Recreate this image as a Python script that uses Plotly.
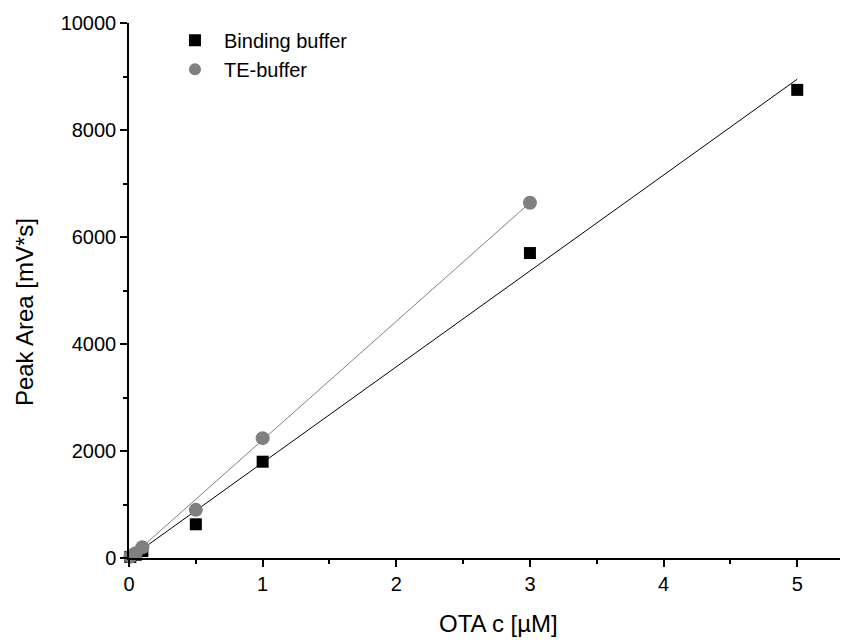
import plotly.graph_objects as go

# Data
bind_x = [0.01, 0.05, 0.1, 0.5, 1, 3, 5]
bind_y = [20, 60, 130, 630, 1800, 5700, 8750]
te_x = [0.01, 0.05, 0.1, 0.5, 1, 3]
te_y = [25, 90, 200, 900, 2240, 6640]

# Linear fit lines (endpoints)
bind_fit_x = [0, 5]
bind_fit_y = [-10, 8950]
te_fit_x = [0, 3]
te_fit_y = [-10, 6640]

x_title = "OTA c [µM]"
y_title = "Peak Area [mV*s]"

FONT = "Liberation Sans, Arial, sans-serif"

fig = go.Figure()
fig.add_trace(go.Scatter(x=bind_fit_x, y=bind_fit_y, mode="lines",
                         line=dict(color="black", width=1), showlegend=False,
                         cliponaxis=False, hoverinfo="skip"))
fig.add_trace(go.Scatter(x=te_fit_x, y=te_fit_y, mode="lines",
                         line=dict(color="#808080", width=1), showlegend=False,
                         cliponaxis=False, hoverinfo="skip"))
fig.add_trace(go.Scatter(x=bind_x, y=bind_y, mode="markers", name="Binding buffer",
                         marker=dict(symbol="square", size=12, color="black"),
                         cliponaxis=False))
fig.add_trace(go.Scatter(x=te_x, y=te_y, mode="markers", name="TE-buffer",
                         marker=dict(symbol="circle", size=14, color="#808080"),
                         cliponaxis=False))

axis_common = dict(showgrid=False, zeroline=False, showline=True, linecolor="black",
                   linewidth=1.5, ticks="outside", tickwidth=1.5, ticklen=7,
                   tickcolor="black", tickfont=dict(family=FONT, size=20, color="black"),
                   mirror=False)

fig.update_xaxes(range=[0, 5.32], tickmode="linear", tick0=0, dtick=1, tickformat="d",
                 minor=dict(ticks="outside", dtick=0.5, ticklen=4, tickwidth=1.5, tickcolor="black"),
                 **axis_common)
fig.update_yaxes(range=[0, 10000], tickmode="linear", tick0=0, dtick=2000, tickformat="d",
                 minor=dict(ticks="outside", dtick=1000, ticklen=4, tickwidth=1.5, tickcolor="black"),
                 **axis_common)

fig.add_annotation(text=x_title, xref="paper", yref="paper", x=0.519, y=-0.123,
                   xanchor="center", yanchor="middle", showarrow=False,
                   font=dict(family=FONT, size=24, color="black"))
fig.add_annotation(text=y_title, xref="paper", yref="paper", x=-0.146, y=0.46,
                   xanchor="center", yanchor="middle", showarrow=False, textangle=-90,
                   font=dict(family=FONT, size=24, color="black"))

fig.update_layout(
    width=853, height=640,
    margin=dict(l=129, r=13, t=23, b=82),
    plot_bgcolor="white", paper_bgcolor="white",
    legend=dict(x=0.052, y=1.004, xanchor="left", yanchor="top",
                font=dict(family=FONT, size=20, color="black"),
                bgcolor="rgba(0,0,0,0)", itemsizing="constant", itemwidth=48,
                tracegroupgap=0),
    font=dict(family=FONT),
)

fig.write_html("out.html")
